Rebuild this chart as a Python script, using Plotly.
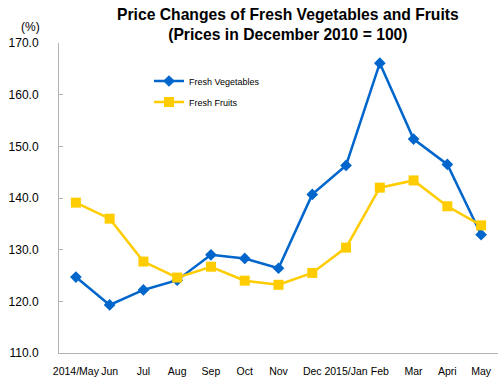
import plotly.graph_objects as go

categories = ["2014/May", "Jun", "Jul", "Aug", "Sep", "Oct", "Nov", "Dec", "2015/Jan", "Feb", "Mar", "Apri", "May"]
vegetables = [124.7, 119.3, 122.2, 124.1, 129.0, 128.3, 126.4, 140.7, 146.3, 166.1, 151.4, 146.5, 132.9]
fruits = [139.1, 136.0, 127.7, 124.6, 126.7, 124.0, 123.2, 125.5, 130.4, 142.0, 143.4, 138.4, 134.7]
y_ticks = [110, 120, 130, 140, 150, 160, 170]

x_idx = list(range(len(categories)))

fig = go.Figure()
fig.add_trace(go.Scatter(
    x=x_idx, y=vegetables, name="Fresh Vegetables", mode="lines+markers",
    line=dict(color="#0066CC", width=2.5),
    marker=dict(symbol="diamond", size=9, color="#0066CC"),
    legend="legend",
))
fig.add_trace(go.Scatter(
    x=x_idx, y=fruits, name="Fresh Fruits", mode="lines+markers",
    line=dict(color="#FFCC00", width=2.5),
    marker=dict(symbol="square", size=10, color="#FFCC00"),
    legend="legend2",
))

W, H = 504, 386
L, R, T, B = 59, 6, 43, 33
pw, ph = W - L - R, H - T - B

def px(x):
    return (x - L) / pw

def py(y):
    return (H - B - y) / ph

leg_common = dict(xanchor="left", yanchor="middle", bgcolor="rgba(0,0,0,0)",
                  font=dict(size=9), borderwidth=0)

fig.update_layout(
    width=W, height=H,
    margin=dict(l=L, r=R, t=T, b=B, autoexpand=False),
    paper_bgcolor="white", plot_bgcolor="white",
    font=dict(family="Liberation Sans, Arial, sans-serif", size=10, color="black"),
    showlegend=True,
    legend=dict(x=px(149), y=py(81), **leg_common),
    legend2=dict(x=px(149), y=py(102), **leg_common),
    xaxis=dict(
        tickmode="array", tickvals=x_idx, ticktext=categories,
        range=[-0.5, len(categories) - 0.5],
        showline=True, linecolor="#b3b3b3", linewidth=1,
        showgrid=False, zeroline=False, ticks="",
        tickangle=0, automargin=False, ticklabelstandoff=8,
        tickfont=dict(size=10.5),
    ),
    yaxis=dict(
        range=[110, 170], tickvals=y_ticks,
        ticktext=[f"{v:.1f}" for v in y_ticks],
        showline=True, linecolor="#b3b3b3", linewidth=1,
        showgrid=False, zeroline=False,
        ticks="inside", ticklen=4, tickcolor="#b3b3b3",
        ticklabelstandoff=17, automargin=False,
        tickfont=dict(size=12),
    ),
    annotations=[
        dict(
            text="<b>Price Changes of Fresh Vegetables and Fruits<br>(Prices in December 2010 = 100)</b>",
            xref="paper", yref="paper", x=px(287.5), y=py(24),
            xanchor="center", yanchor="middle", showarrow=False,
            font=dict(size=15.7, color="black"),
        ),
        dict(
            text="(%)", xref="paper", yref="paper", x=px(42), y=py(27),
            xanchor="right", yanchor="middle", showarrow=False,
            font=dict(size=12),
        ),
    ],
)

fig.write_html(
    "out.html",
    config={"displayModeBar": False},
    post_script="document.body.style.margin='0';document.body.style.padding='0';",
)
